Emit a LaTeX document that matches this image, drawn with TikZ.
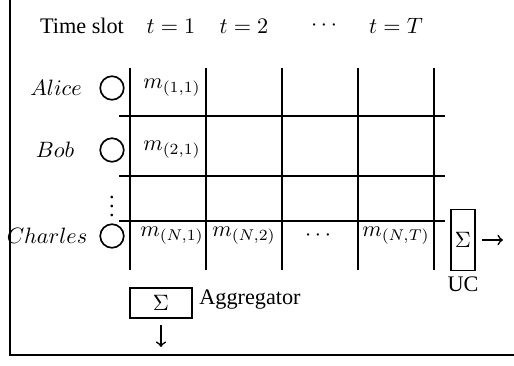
\documentclass[tikz,border=0pt]{standalone}
\usepackage{fontspec}
\setmainfont{Liberation Serif}
\tikzset{every picture/.style={line width=0.75pt}}
\tikzset{
  user/.style={draw, circle, inner sep=0pt, minimum size=10.6pt},
  sumbox/.style={draw, inner sep=0pt, minimum width=10.8pt, minimum height=27.5pt},
  aggbox/.style={draw, inner sep=0pt, minimum width=27.9pt, minimum height=13.5pt},
  cell/.style={inner sep=0.75pt},
}

\begin{document}
\begin{tikzpicture}[x=0.45pt,y=0.45pt,yscale=-1,xscale=1]
\useasboundingbox (0,0) rectangle (514,366);

%Frame
\draw [line width=1pt] (10,0) -- (10,355) -- (514,355) ;

%Grid: vertical lines
\foreach \x in {130,206,282,358,434}
  \draw (\x,68) -- (\x,270) ;
%Grid: horizontal lines
\foreach \y in {116,176,221}
  \draw (119,\y) -- (445,\y) ;

% Header
\node (slot) at (82,26) {Time slot};
\node (t1) at (171,26) {$t=1$};
\node (t2) at (244,26) {$t=2$};
\node (tdots) at (324,26) {$\cdots$};
\node (tT) at (396,26) {$t=T$};

% Users
\node (alice) at (56,88) {$Alice$};
\node (bob) at (55,150) {$Bob$};
\node (charles) at (47,236) {$Charles$};
\node [user] (ualice) at (112,88) {};
\node [user] (ubob) at (112,150) {};
\node [user] (ucharles) at (112,236) {};
\node (udots) at (112,200) {$\vdots$};

% Cells
\node [cell] (m11) at (172,88) {$m_{(1,1)}$};
\node [cell] (m21) at (172,150) {$m_{(2,1)}$};
\node [cell] (mN1) at (172,236) {$m_{(N,1)}$};
\node [cell] (mN2) at (244,236) {$m_{(N,2)}$};
\node [cell] (mNdots) at (318,236) {$\cdots$};
\node [cell] (mNT) at (396,236) {$m_{(N,T)}$};

% UC
\node [sumbox] (uc) at (463,240) {$\Sigma$};
\node (uclabel) at (463,284) {UC};
\coordinate (ucout) at (503,240);
\draw [->, shorten <=2.7pt] (uc) -- (ucout) ;

% Aggregator
\node [aggbox] (agg) at (161,303) {$\Sigma$};
\node (agglabel) at (250,300) {Aggregator};
\coordinate (aggout) at (161,347);
\draw [->, shorten <=2.7pt] (agg) -- (aggout) ;

\end{tikzpicture}
\end{document}
